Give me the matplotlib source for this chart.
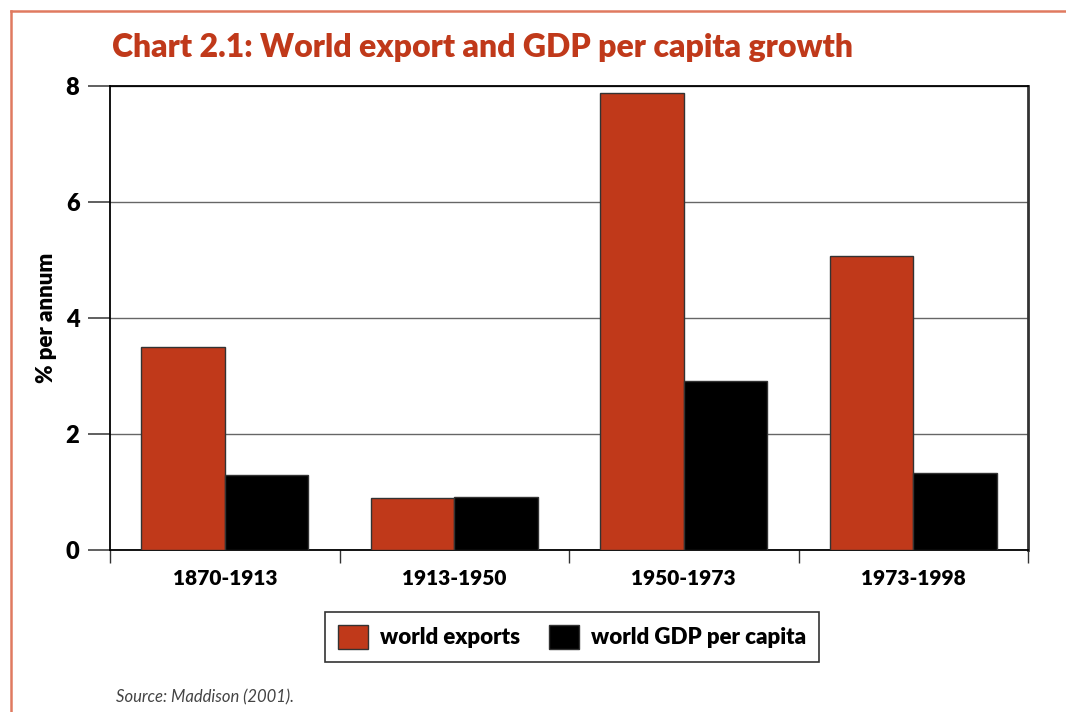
import matplotlib
matplotlib.use("Agg")
import matplotlib.pyplot as plt
from matplotlib.patches import Patch
from matplotlib.lines import Line2D
import numpy as np

plt.rcParams['font.family'] = ['Lato', 'DejaVu Sans']

periods = ["1870-1913", "1913-1950", "1950-1973", "1973-1998"]
world_exports = [3.5, 0.9, 7.88, 5.07]
world_gdp_per_capita = [1.3, 0.91, 2.92, 1.33]
series_labels = ["world exports", "world GDP per capita"]
y_ticks = [0, 2, 4, 6, 8]

RED = "#C0391A"
BORDER = "#E07A60"
HEAVY = "heavy"

fig = plt.figure(figsize=(10.66, 7.12), dpi=100)
ax = fig.add_axes([110 / 1066, 1 - 550 / 712, 918 / 1066, 464 / 712])

x = np.arange(len(periods))
w = 0.364
ax.bar(x - w / 2, world_exports, w, color=RED, edgecolor="#333333", linewidth=1.0, zorder=3)
ax.bar(x + w / 2, world_gdp_per_capita, w, color="black", edgecolor="#333333", linewidth=1.0, zorder=3)

ax.set_xlim(-0.5, len(periods) - 0.5)
ax.set_ylim(0, 8)
ax.set_yticks(y_ticks)
ax.set_yticklabels([str(t) for t in y_ticks], fontsize=17, fontweight=HEAVY)
ax.yaxis.grid(True, color="#666666", linewidth=1.0, zorder=0)
ax.set_axisbelow(True)

# category boundaries carry the ticks, labels sit at the centers
ax.set_xticks(np.arange(-0.5, len(periods), 1.0))
ax.set_xticklabels([])
ax.set_xticks(x, minor=True)
ax.set_xticklabels(periods, minor=True, fontsize=15, fontweight=HEAVY)
ax.tick_params(axis="x", which="major", direction="out", length=9, width=1.0, color="#333333")
ax.tick_params(axis="x", which="minor", length=0, pad=14)
ax.tick_params(axis="y", direction="out", length=16, width=1.2, color="#444444", pad=6)

for side in ["left", "bottom", "top"]:
    ax.spines[side].set_color("black")
    ax.spines[side].set_linewidth(1.3)
ax.spines["right"].set_color("#333333")
ax.spines["right"].set_linewidth(2.0)

ax.set_ylabel("% per annum", fontsize=16, fontweight=HEAVY, labelpad=6)

fig.text(112 / 1066, 1 - 48 / 712, "Chart 2.1: World export and GDP per capita growth",
         fontsize=23, fontweight=HEAVY, color=RED, va="center", ha="left")

handles = [Patch(facecolor=RED, edgecolor="#333333", linewidth=1.0),
           Patch(facecolor="black", edgecolor="#333333", linewidth=1.0)]
leg = fig.legend(handles, series_labels, loc="center",
                 bbox_to_anchor=(572 / 1066, 1 - 637 / 712),
                 ncol=2, frameon=True, fancybox=False, edgecolor="black",
                 prop={"weight": HEAVY, "size": 16}, handlelength=1.35, handleheight=1.35,
                 columnspacing=1.3, handletextpad=0.55, borderpad=0.55)
leg.get_frame().set_linewidth(1.2)

fig.text(116 / 1066, 1 - 697 / 712, "Source: Maddison (2001).", fontsize=12,
         style="italic", color="#444444", va="center", ha="left")

# page border along the top and left edges
fig.add_artist(Line2D([11 / 1066, 11 / 1066], [0, 1 - 11 / 712], transform=fig.transFigure,
                      color=BORDER, linewidth=1.8))
fig.add_artist(Line2D([11 / 1066, 1], [1 - 11 / 712, 1 - 11 / 712], transform=fig.transFigure,
                      color=BORDER, linewidth=1.8))

fig.savefig("out.png", dpi=100)
